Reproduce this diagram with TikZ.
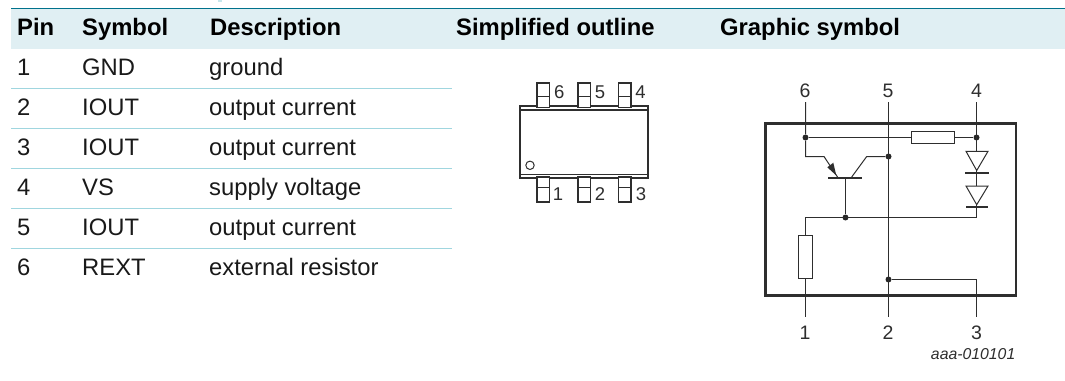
\documentclass[tikz,border=0pt]{standalone}
\usepackage{fontspec}
\setmainfont{Liberation Sans}
\usetikzlibrary{arrows.meta}
\definecolor{headbg}{HTML}{E0EFF3}
\definecolor{headline}{HTML}{00728C}
\definecolor{rowline}{HTML}{A0D6DF}
\definecolor{ink}{HTML}{2E2E2E}
\begin{document}
\begin{tikzpicture}[x=1pt,y=-1pt,
  cell/.style={anchor=base west,inner sep=0pt,font=\fontsize{23.8}{28}\selectfont,text=black!90},
  headcell/.style={anchor=base west,inner sep=0pt,font=\fontsize{23.8}{28}\selectfont\bfseries,text=black},
  pinlab/.style={inner sep=0pt,font=\fontsize{19.5}{22}\selectfont,text=ink},
  outlab/.style={inner sep=0pt,font=\fontsize{18.5}{22}\selectfont,text=ink},
  wire/.style={draw=ink,line width=1pt},
  pkg/.style={draw=ink,line width=1.2pt},
  leadbox/.style={draw=ink,line width=1.2pt,fill=white},
  res/.style={draw=ink,line width=1pt,fill=white,inner sep=0pt},
  dotn/.style={circle,fill=black!85,inner sep=0pt,minimum size=6pt}]
\useasboundingbox (0,0) rectangle (1065,380);
\fill[headbg] (11,8.5) rectangle (1065,49);
\draw[headline,line width=1pt] (11,8.5) -- (1065,8.5);
\fill[rowline!60] (218,0) rectangle (222,2);
\foreach \y in {88.5,128.5,168.5,208.5,248.5}{\draw[rowline,line width=1pt] (11,\y) -- (452,\y);}
\node[headcell] (hp) at (17,35) {Pin};
\node[headcell] (hs) at (82,35) {Symbol};
\node[headcell] (hd) at (210,35) {Description};
\node[headcell] (ho) at (456,35) {Simplified outline};
\node[headcell] (hg) at (720,35) {Graphic symbol};
\node[cell] (p1) at (17,75) {1};\node[cell] (s1) at (82,75) {GND};\node[cell] (d1) at (209,75) {ground};
\node[cell] (p2) at (17,115) {2};\node[cell] (s2) at (82,115) {IOUT};\node[cell] (d2) at (209,115) {output current};
\node[cell] (p3) at (17,155) {3};\node[cell] (s3) at (82,155) {IOUT};\node[cell] (d3) at (209,155) {output current};
\node[cell] (p4) at (17,195) {4};\node[cell] (s4) at (82,195) {VS};\node[cell] (d4) at (209,195) {supply voltage};
\node[cell] (p5) at (17,235) {5};\node[cell] (s5) at (82,235) {IOUT};\node[cell] (d5) at (209,235) {output current};
\node[cell] (p6) at (17,275) {6};\node[cell] (s6) at (82,275) {REXT};\node[cell] (d6) at (209,275) {external resistor};
% outline
\draw[pkg] (520,106) rectangle (648,178);
\draw[pkg] (520,110) -- (648,110);
\draw[pkg] (520,174.3) -- (648,174.3);
\draw[ink,line width=1pt] (530,165.3) circle (4.2);
\foreach \x in {537,578,618.5}{
 \draw[leadbox] (\x,83) rectangle (\x+12.5,107.5);
 \draw[ink,line width=1pt] (\x,96.7) -- (\x+12.5,96.7);
 \draw[leadbox] (\x,177) rectangle (\x+12.5,202);
 \draw[ink,line width=1pt] (\x,187) -- (\x+12.5,187);
}
\node[outlab] (o6) at (559.3,92) {6};
\node[outlab] (o5) at (600,92) {5};
\node[outlab] (o4) at (640.5,92) {4};
\node[outlab] (o1) at (558,194) {1};
\node[outlab] (o2) at (600,194) {2};
\node[outlab] (o3) at (641,194) {3};
% symbol
\node[pinlab] (t6) at (805,90.5) {6};
\node[pinlab] (t5) at (888,90.5) {5};
\node[pinlab] (t4) at (976.5,90.5) {4};
\node[pinlab] (b1) at (805,332.5) {1};
\node[pinlab] (b2) at (888,332.5) {2};
\node[pinlab] (b3) at (976.5,332.5) {3};
\node[anchor=base east,inner sep=0pt,font=\fontsize{15.8}{18}\selectfont\itshape,text=ink] (ref) at (1015.5,359) {aaa-010101};
\coordinate (t6w) at (805.5,102);\coordinate (t5w) at (888.5,102);\coordinate (t4w) at (976.5,102);
\coordinate (b1w) at (805.5,316.7);\coordinate (b2w) at (888.5,316.7);\coordinate (b3w) at (976.5,316.7);
\node[dotn] (j6) at (805.5,137.5) {};
\node[dotn] (j4) at (976.5,137.5) {};
\node[dotn] (j5) at (888.5,156.5) {};
\node[dotn] (jb) at (845.5,217.5) {};
\node[dotn] (j2) at (888.5,279.5) {};
\node[res,minimum width=43pt,minimum height=12.7pt] (r1) at (933.2,137.5) {};
\node[res,minimum width=13.3pt,minimum height=43pt] (r2) at (805.5,256.8) {};
\coordinate (base) at (845.5,177.7);
\coordinate (eL) at (824,156.5);\coordinate (eE) at (837.5,177);
\coordinate (cL) at (866.7,156.5);\coordinate (cE) at (851.7,177);
\coordinate (jr) at (976.5,217.5);
\draw[wire] (t6w) -- (j6) -- (805.5,156.5) -- (eL) -- (eE);
\draw[wire] (j5) -- (cL) -- (cE);
\draw[wire] (t5w) -- (b2w);
\draw[wire] (t4w) -- (jr) -- (805.5,217.5) -- (r2.north);
\draw[wire] (j6) -- (r1.west);
\draw[wire] (r1.east) -- (j4);
\draw[wire] (base) -- (jb);
\draw[wire] (r2.south) -- (b1w);
\draw[wire] (j2) -- (976.5,279.5) -- (b3w);
\draw[line width=2.4pt,draw=ink] (765.3,123.3) rectangle (1016,295.3);
\fill[ink] (827.3,167.3) -- (833.3,162.7) -- (836.3,175.5) -- cycle;
\draw[line width=2.2pt,draw=ink] (828,177.7) -- (862,177.7);
\draw[wire,fill=white] (966,151.3) -- (988,151.3) -- (976.7,170.5) -- cycle;
\draw[wire,fill=white] (966,186) -- (988,186) -- (976.7,204.7) -- cycle;
\draw[wire] (976.5,170) -- (976.5,172.7);
\draw[wire] (976.5,204) -- (976.5,207);
\draw[line width=2.2pt,draw=ink] (965,172.7) -- (989,172.7);
\draw[line width=2.2pt,draw=ink] (966,207) -- (987.5,207);
\end{tikzpicture}
\end{document}
